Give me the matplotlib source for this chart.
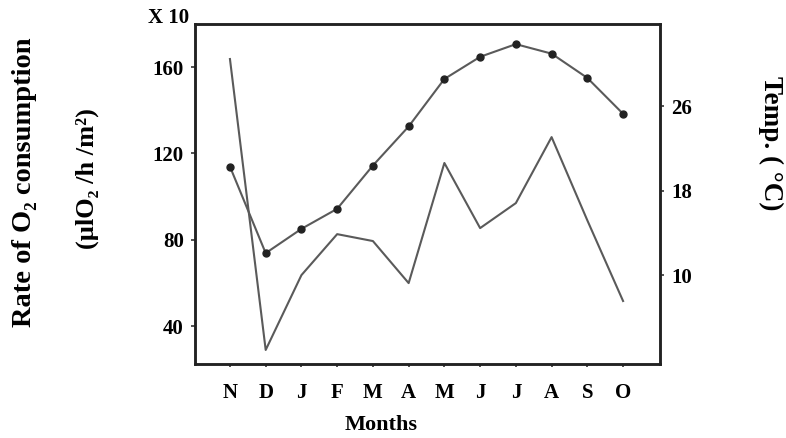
import matplotlib
matplotlib.use("Agg")
import matplotlib.pyplot as plt

months = ["N", "D", "J", "F", "M", "A", "M", "J", "J", "A", "S", "O"]
o2_rate = [163.8, 28.9, 63.6, 82.6, 79.4, 59.9, 115.6, 85.4, 97.0, 127.6, 89.0, 51.6]
temperature = [20.3, 12.1, 14.4, 16.3, 20.4, 24.1, 28.6, 30.7, 31.9, 31.0, 28.7, 25.3]

left_ticks = [40, 80, 120, 160]
right_ticks = [10, 18, 26]

plt.rcParams['font.family'] = ['Liberation Serif', 'DejaVu Serif']
plt.rcParams['font.weight'] = 'bold'

fig = plt.figure(figsize=(7.86, 4.38), dpi=100)
ax = fig.add_axes([0.248, 0.169, 0.592, 0.776])
ax2 = ax.twinx()

x = list(range(len(months)))
line_col = "#5a5a5a"
ax.plot(x, o2_rate, color=line_col, lw=1.5)
ax2.plot(x, temperature, color=line_col, lw=1.5, marker='o', markersize=5,
         markerfacecolor='#222222', markeredgecolor='#222222')

ax.set_xlim(-0.98, 12.04)
ax.set_ylim(22.4, 180)
ax2.set_ylim(1.6, 33.8)

ax.set_xticks(x)
ax.set_xticklabels(months, fontsize=15, fontweight='bold')
ax.set_yticks(left_ticks)
ax.set_yticklabels([str(t) for t in left_ticks], fontsize=15, fontweight='bold')
ax2.set_yticks(right_ticks)
ax2.set_yticklabels([str(t) for t in right_ticks], fontsize=15, fontweight='bold')

ax.tick_params(axis='x', length=2, width=1.2, pad=12, color='#333333')
ax.tick_params(axis='y', length=3, width=1.2, pad=5, color='#333333')
ax2.tick_params(axis='y', length=3, width=1.2, pad=5, color='#333333')

for a in (ax, ax2):
    for s in a.spines.values():
        s.set_linewidth(1.8)
        s.set_color('#222222')

fig.text(0.485, 0.03, "Months", ha='center', va='center', fontsize=16, fontweight='bold')

fig.text(0.031, 0.585, "Rate of O\u2082 consumption", rotation=90, ha='center', va='center',
         fontsize=20.5, fontweight='bold')
fig.text(0.111, 0.593, "(µlO\u2082 /h /m\u00b2)", rotation=90, ha='center', va='center',
         fontsize=19, fontweight='bold')
fig.text(0.98, 0.672, "Temp. ( \u00b0C)", rotation=270, ha='center', va='center',
         fontsize=19.5, fontweight='bold')
fig.text(0.215, 0.958, "X 10", ha='center', va='center', fontsize=15, fontweight='bold')

fig.savefig("out.png", dpi=100)
